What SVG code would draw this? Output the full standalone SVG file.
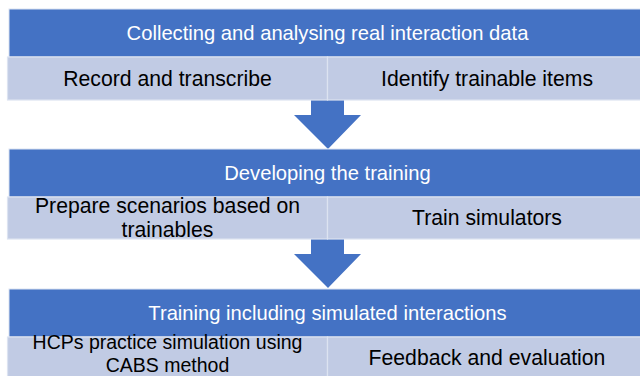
<svg xmlns="http://www.w3.org/2000/svg" width="640" height="376" viewBox="0 0 640 376">
<style>
.hdr{fill:#4472C4;stroke:#DCE3F1;stroke-width:1}
.cell{fill:#C1CBE4;stroke:#DCE3F1;stroke-width:1.2}
.ht{font-family:"Liberation Sans",Arial,sans-serif;font-size:20.2px;fill:#FFFFFF;text-anchor:middle}
.ct{font-family:"Liberation Sans",Arial,sans-serif;font-size:21.2px;fill:#000000;text-anchor:middle}
.cs{font-size:19.5px}
.arr{fill:#4472C4}
</style>
<rect width="640" height="376" fill="#FFFFFF"/>
<g id="connectors">
<path class="arr" d="M311 100 H344 V115 H361 L328 149 L294 115 H311 Z"/>
<path class="arr" d="M311 239 H344 V254 H361 L328 288 L294 254 H311 Z"/>
</g>
<g id="header1">
<rect class="hdr" x="9" y="9" width="640" height="48"/>
<text class="ht" x="327.5" y="40">Collecting and analysing real interaction data</text>
</g>
<g id="record">
<rect class="cell" x="7.5" y="57" width="320" height="43"/>
<text class="ct" x="167.5" y="86">Record and transcribe</text>
</g>
<g id="identify">
<rect class="cell" x="327.5" y="57" width="320" height="43"/>
<text class="ct" x="487" y="86">Identify trainable items</text>
</g>
<g id="header2">
<rect class="hdr" x="9" y="149" width="640" height="48"/>
<text class="ht" x="327.5" y="180">Developing the training</text>
</g>
<g id="prepare">
<rect class="cell" x="7.5" y="197" width="320" height="42"/>
<text class="ct" x="167.5" y="213">Prepare scenarios based on</text>
<text class="ct" x="167.5" y="237">trainables</text>
</g>
<g id="simulators">
<rect class="cell" x="327.5" y="197" width="320" height="42"/>
<text class="ct" x="487" y="225">Train simulators</text>
</g>
<g id="header3">
<rect class="hdr" x="9" y="289" width="640" height="48"/>
<text class="ht" x="327.5" y="320">Training including simulated interactions</text>
</g>
<g id="practice">
<rect class="cell" x="7.5" y="337" width="320" height="45"/>
<text class="ct cs" x="167.5" y="349">HCPs practice simulation using</text>
<text class="ct cs" x="167.5" y="371.8">CABS method</text>
</g>
<g id="feedback">
<rect class="cell" x="327.5" y="337" width="320" height="45"/>
<text class="ct" x="487" y="365">Feedback and evaluation</text>
</g>
</svg>
